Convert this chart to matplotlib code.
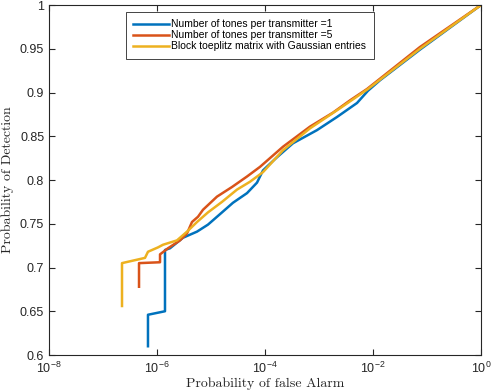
import numpy as np
import matplotlib
matplotlib.use("Agg")
import matplotlib.pyplot as plt
from matplotlib.ticker import FixedLocator, NullLocator

plt.rcParams['mathtext.fontset'] = 'custom'
plt.rcParams['mathtext.rm'] = 'Liberation Sans'
plt.rcParams['mathtext.it'] = 'Liberation Sans:italic'
plt.rcParams['font.family'] = 'Liberation Sans'

# log10 of false alarm probability, detection probability
blue_logpfa = [-6.167, -6.167, -5.852, -5.852, -5.759, -5.519, -5.259, -5.056, -4.963, -4.796,
               -4.593, -4.333, -4.148, -4.037, -3.778, -3.481, -3.037, -2.667, -2.296, -2.093,
               -1.870, -1.130, 0.0]
blue_pd = [0.610, 0.646, 0.650, 0.720, 0.722, 0.734, 0.741, 0.749, 0.754, 0.763,
           0.774, 0.785, 0.797, 0.811, 0.826, 0.842, 0.857, 0.872, 0.888, 0.902,
           0.914, 0.949, 1.0]

orange_logpfa = [-6.333, -6.333, -5.944, -5.944, -5.796, -5.574, -5.444, -5.352, -5.241, -5.148,
                 -4.889, -4.611, -4.333, -4.093, -3.667, -3.167, -2.741, -2.426, -2.111,
                 -1.130, 0.0]
orange_pd = [0.678, 0.705, 0.706, 0.715, 0.722, 0.731, 0.739, 0.752, 0.758, 0.766,
             0.781, 0.792, 0.804, 0.815, 0.838, 0.861, 0.877, 0.891, 0.904,
             0.952, 1.0]

yellow_logpfa = [-6.648, -6.648, -6.222, -6.167, -5.981, -5.889, -5.630, -5.444, -5.259, -5.056,
                 -4.796, -4.519, -4.278, -4.037, -3.667, -3.167, -2.611, -2.093, -1.130, 0.0]
yellow_pd = [0.656, 0.705, 0.711, 0.718, 0.723, 0.726, 0.731, 0.741, 0.752, 0.763,
             0.775, 0.789, 0.798, 0.809, 0.834, 0.859, 0.882, 0.904, 0.950, 1.0]

labels = ['Number of tones per transmitter =1',
          'Number of tones per transmitter =5',
          'Block toeplitz matrix with Gaussian entries']
colors = ['#0072BD', '#D95319', '#EDB120']

fig = plt.figure(figsize=(4.92, 3.92), dpi=100)
ax = fig.add_axes([49/492, 1-355/392, 432/492, 350/392])

series = [(blue_logpfa, blue_pd), (orange_logpfa, orange_pd), (yellow_logpfa, yellow_pd)]
for (lx, py), c, lab in zip(series, colors, labels):
    ax.plot(10.0 ** np.array(lx), py, color=c, lw=1.8, label=lab)

ax.set_xscale('log')
ax.set_xlim(1e-8, 1)
ax.set_ylim(0.6, 1.0)
ax.xaxis.set_major_locator(FixedLocator([1e-8, 1e-6, 1e-4, 1e-2, 1]))
ax.xaxis.set_minor_locator(NullLocator())
ax.set_yticks(np.arange(0.6, 1.0001, 0.05))
ax.set_yticklabels(['0.6', '0.65', '0.7', '0.75', '0.8', '0.85', '0.9', '0.95', '1'])

axc = '#262626'
for s in ax.spines.values():
    s.set_color(axc)
    s.set_linewidth(0.8)
ax.tick_params(which='both', direction='in', top=True, right=True, colors=axc,
               labelsize=9, length=4, width=0.8, labelcolor=axc)
ax.tick_params(axis='x', pad=4)

ax.set_xlabel('Probability of false Alarm', family='cmr10', fontsize=10, color='#262626', labelpad=1)
ax.set_ylabel('Probability of Detection', family='cmr10', fontsize=10, color='#262626', labelpad=4)

leg = ax.legend(loc='upper left', bbox_to_anchor=(0.178, 0.98), fontsize=7.5,
                frameon=True, fancybox=False, edgecolor='#262626', framealpha=1,
                handlelength=3.4, handletextpad=0.25, borderpad=0.7, labelspacing=0.1,
                borderaxespad=0)
leg.get_frame().set_linewidth(0.6)

fig.savefig('out.png', dpi=100)
